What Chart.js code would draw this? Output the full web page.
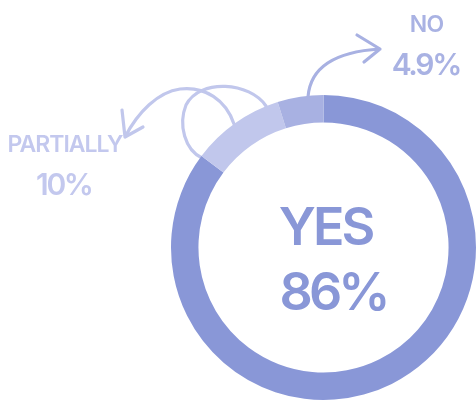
<!DOCTYPE html>
<html>
<head>
<meta charset="utf-8">
<script src="https://cdn.jsdelivr.net/npm/chart.js@4"></script>
<style>
  html, body { margin: 0; padding: 0; background: #fff; }
  #wrap { width: 476px; height: 401px; position: relative; }
</style>
</head>
<body>
<div id="wrap"><canvas id="donut"></canvas></div>
<script>
const labels = ['YES', 'PARTIALLY', 'NO'];
const values = [86, 10, 4.9];
const colors = ['#8997d7', '#c1c7ec', '#a8b1e2'];
const textColors = ['#8997d7', '#c3c8ee', '#a9b2e3'];

const font = '"Inter", "DejaVu Sans", sans-serif';

// hand drawn arrows, drawn under the ring
const arrows = {
    id: 'arrows',
    beforeDatasetsDraw(chart) {
        const c = chart.ctx;
        c.save();
        c.lineWidth = 3.2;
        c.lineCap = 'round';
        c.lineJoin = 'round';

        // PARTIALLY loop arrow
        c.strokeStyle = colors[1];
        c.beginPath();
        c.moveTo(266, 106);
        c.bezierCurveTo(250, 82, 200, 78, 186, 105);
        c.bezierCurveTo(178, 125, 185, 150, 202, 158);
        c.stroke();
        c.beginPath();
        c.moveTo(234, 124);
        c.bezierCurveTo(226, 100, 205, 86, 180, 89);
        c.bezierCurveTo(158, 92, 138, 112, 125, 137);
        c.moveTo(122, 110);
        c.lineTo(125, 137);
        c.lineTo(143, 127);
        c.stroke();

        // NO arrow
        c.strokeStyle = colors[2];
        c.beginPath();
        c.moveTo(308, 97);
        c.bezierCurveTo(310, 70, 330, 52, 380, 49);
        c.moveTo(357, 35);
        c.lineTo(380, 49);
        c.lineTo(364, 62);
        c.stroke();
        c.restore();
    }
};

function label(c, txt, x, y, size, spacing) {
    c.font = '600 ' + size + 'px ' + font;
    c.letterSpacing = spacing + 'px';
    c.textAlign = 'left';
    const w = c.measureText(txt).width - spacing;
    c.fillText(txt, x - w / 2, y);
}

const texts = {
    id: 'texts',
    afterDatasetsDraw(chart) {
        const c = chart.ctx;
        c.save();
        c.textBaseline = 'alphabetic';

        c.fillStyle = textColors[0];
        label(c, labels[0], 327, 245, 52, -3);
        label(c, values[0] + '%', 335, 310, 52, -4);

        c.fillStyle = textColors[1];
        label(c, labels[1], 65.5, 152, 23, -1);
        label(c, values[1] + '%', 65, 195, 30, -2.3);

        c.fillStyle = textColors[2];
        label(c, labels[2], 427, 32, 23, -0.7);
        label(c, values[2] + '%', 427, 75, 30, -2.3);
        c.restore();
    }
};

new Chart(document.getElementById('donut'), {
    type: 'doughnut',
    data: {
        labels: labels,
        datasets: [{
            data: values,
            backgroundColor: colors,
            borderWidth: 0,
            hoverOffset: 0
        }]
    },
    options: {
        responsive: true,
        maintainAspectRatio: false,
        animation: false,
        cutout: '82%',
        layout: {
            padding: { left: 171, right: 0, top: 95, bottom: 1 }
        },
        plugins: {
            legend: { display: false },
            tooltip: { enabled: false }
        }
    },
    plugins: [arrows, texts]
});
</script>
</body>
</html>
